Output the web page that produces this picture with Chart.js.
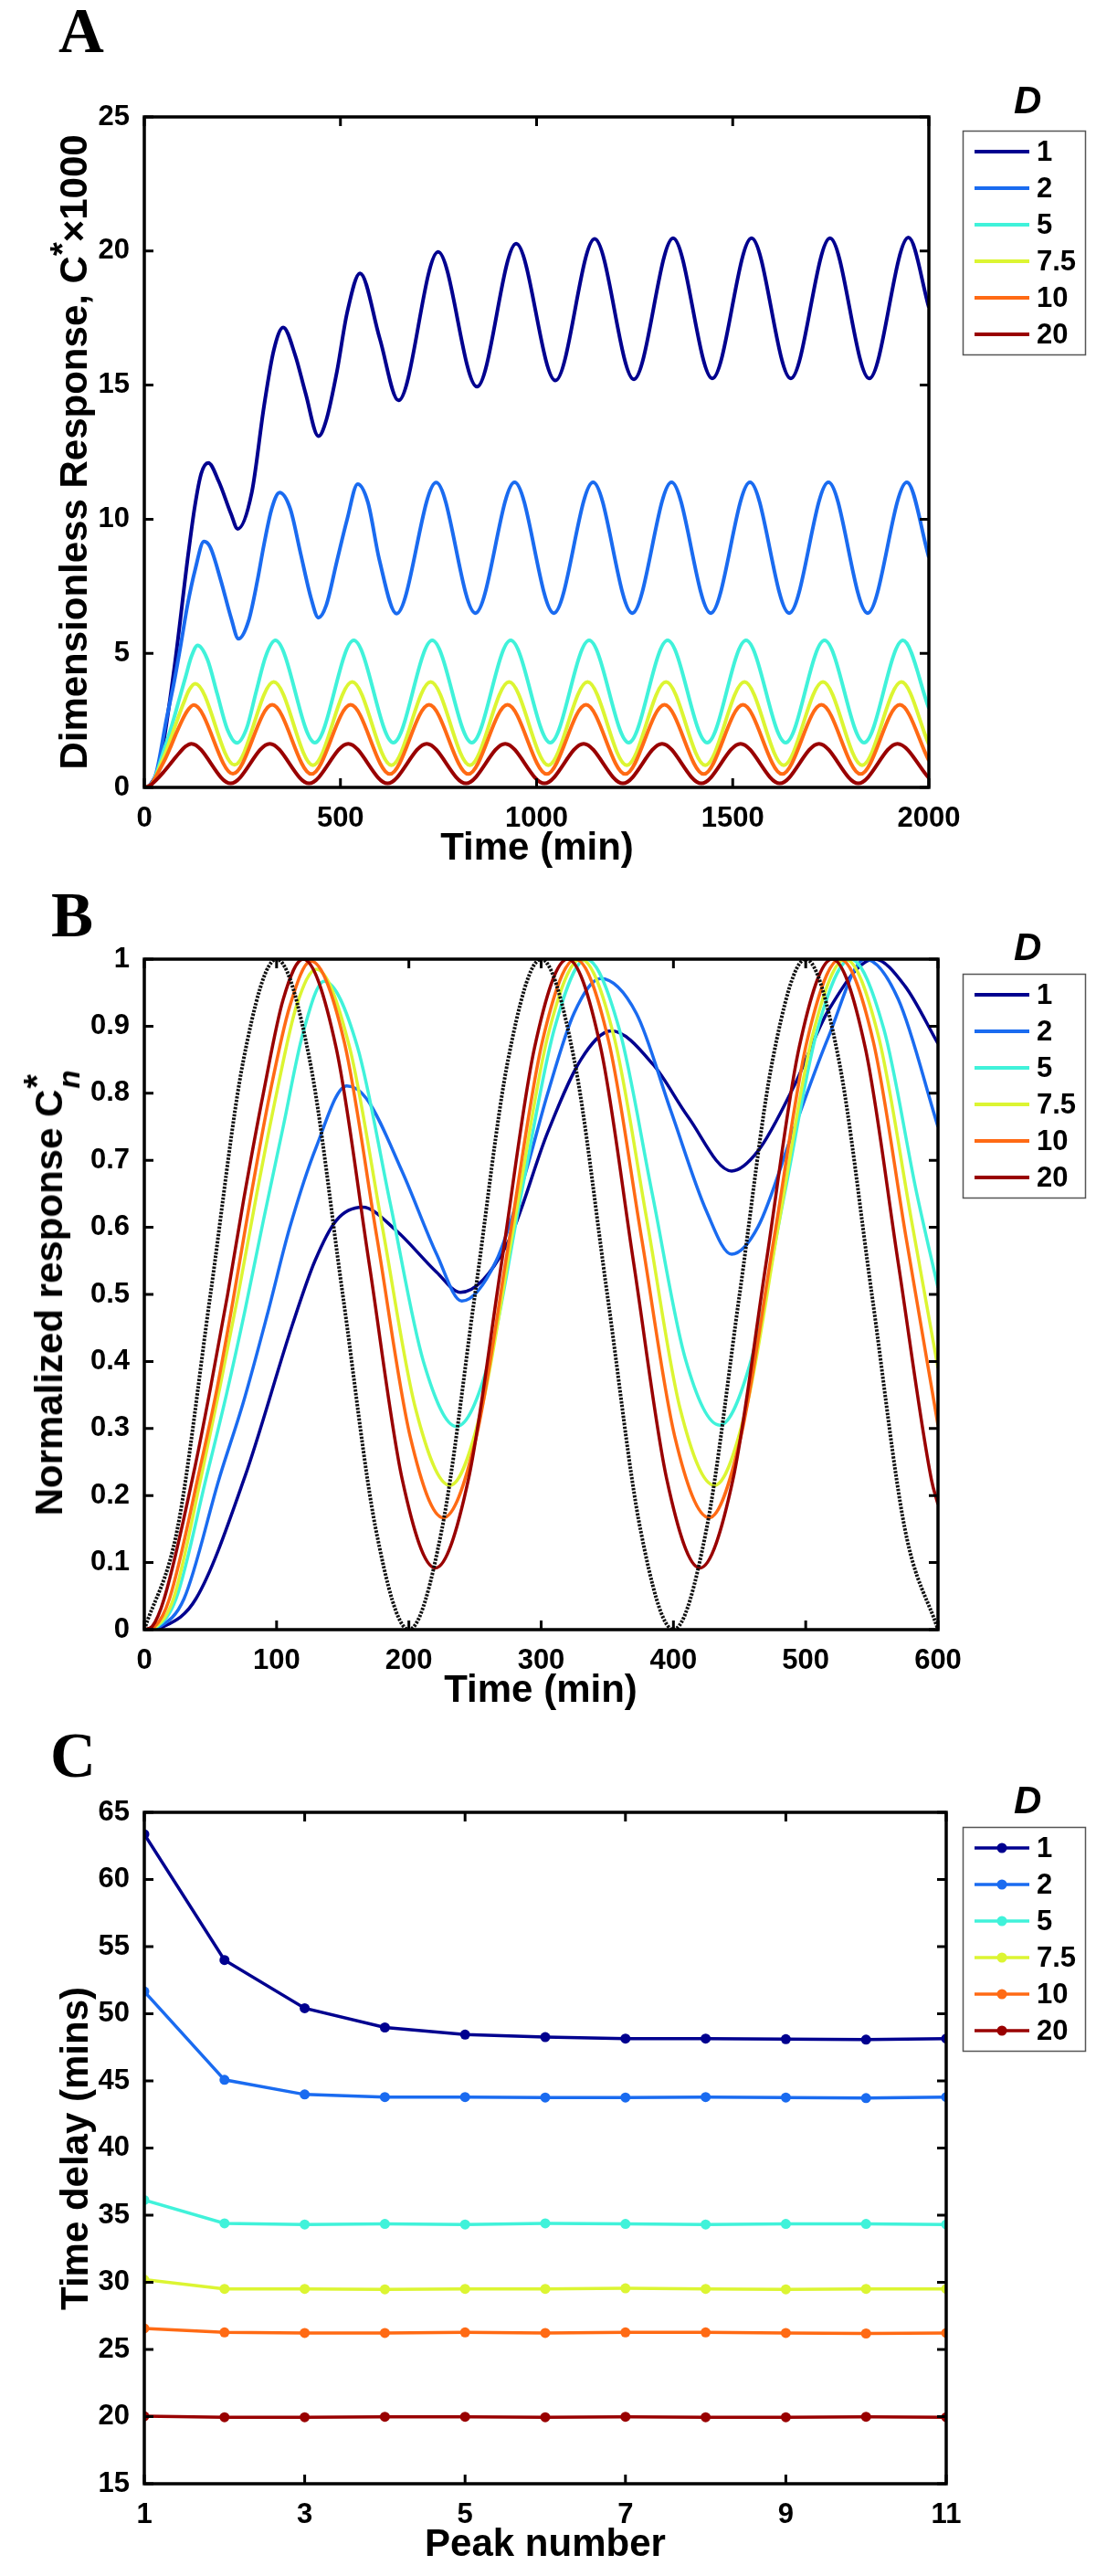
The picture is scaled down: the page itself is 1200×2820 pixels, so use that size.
<!DOCTYPE html>
<html>
<head>
<meta charset="utf-8">
<title>Response to periodic input for different D</title>
<script src="https://cdn.jsdelivr.net/npm/chart.js@4.4.1/dist/chart.umd.min.js"></script>
<style>
  html, body { margin: 0; padding: 0; background: #fff; }
  #page { position: relative; width: 1200px; height: 2820px; overflow: hidden; color: #000; }
  .panel { position: absolute; left: 0; width: 1200px; }
  .panel canvas { display: block; }
  .letter { position: absolute; font: bold 69px/1 'Liberation Serif', 'Times New Roman', serif; }
  .dhead { position: absolute; font: italic bold 42px/1 'Liberation Sans', Arial, sans-serif; }
  .ytitle, .xtitle { position: absolute; font: bold 42px/1 'Liberation Sans', Arial, sans-serif; white-space: nowrap; }
  .ytitle { transform: translate(-50%, -50%) rotate(-90deg); }
  .xtitle { transform: translate(-50%, -50%); }
  .sup { position: relative; top: -0.38em; font-size: 0.9em; }
  .supsub { position: relative; display: inline-block; width: 22px; height: 30px; }
  .supsub .st { position: absolute; left: 1px; top: -18px; font-size: 40px; line-height: 1; }
  .supsub .sb { position: absolute; left: 1px; top: 21px; font-size: 33px; line-height: 1; font-style: italic; }
</style>
</head>
<body>
<div id="page">
  <div class="panel" style="top:0; height:960px;"><canvas id="chartA" width="1200" height="960"></canvas></div>
  <div class="panel" style="top:960px; height:920px;"><canvas id="chartB" width="1200" height="920"></canvas></div>
  <div class="panel" style="top:1880px; height:940px;"><canvas id="chartC" width="1200" height="940"></canvas></div>

  <div class="letter" style="left:64px; top:0px;">A</div>
  <div class="letter" style="left:56px; top:968px;">B</div>
  <div class="letter" style="left:55px; top:1888px;">C</div>

  <div class="dhead" style="left:1110px; top:89px;">D</div>
  <div class="dhead" style="left:1110px; top:1016px;">D</div>
  <div class="dhead" style="left:1110px; top:1950px;">D</div>

  <div class="ytitle" style="left:81px; top:495px;">Dimensionless Response, C<span class="sup">*</span>×1000</div>
  <div class="ytitle" style="left:54px; top:1415px;">Normalized response C<span class="supsub"><span class="st">*</span><span class="sb">n</span></span></div>
  <div class="ytitle" style="left:82px; top:2352px;">Time delay (mins)</div>

  <div class="xtitle" style="left:588px; top:927px;">Time (min)</div>
  <div class="xtitle" style="left:592px; top:1849px;">Time (min)</div>
  <div class="xtitle" style="left:597px; top:2784px;">Peak number</div>
</div>

<script>
// ---- data ----
const dLabels = ['1', '2', '5', '7.5', '10', '20'];
const jetColors = ['#00008F', '#1A6BF0', '#40F2DA', '#DCF532', '#FF6A14', '#990000'];

// Panel A: C* x 1000 against time (min)
const aTimeTicks = [0, 500, 1000, 1500, 2000];
const aRespTicks = [0, 5, 10, 15, 20, 25];

const aT1 = [0, 15, 39, 76, 112, 129, 145, 163, 190, 221, 238, 274, 305, 330, 354, 385, 411, 444, 464, 491, 517, 550, 600, 648, 749, 848, 948, 1048, 1148, 1248, 1348, 1448, 1548, 1648, 1748, 1848, 1948, 2000];
const aC1 = [0, 0.1, 0.9, 4.4, 8.7, 10.5, 11.7, 12.1, 11.4, 10.2, 9.64, 11.0, 14.2, 16.3, 17.15, 16.1, 14.7, 13.1, 13.7, 15.5, 17.7, 19.17, 16.75, 14.43, 19.97, 14.94, 20.27, 15.17, 20.45, 15.22, 20.48, 15.25, 20.48, 15.25, 20.48, 15.25, 20.5, 17.9];

const aT2 = [0, 12, 30, 57, 75, 93, 110, 130, 152, 168, 195, 221, 240, 266, 288, 305, 325, 345, 372, 398, 425, 444, 464, 491, 517, 544, 570, 599, 643, 744, 844, 944, 1044, 1144, 1244, 1344, 1444, 1544, 1644, 1744, 1844, 1944, 2000];
const aC2 = [0, 0.05, 0.52, 2.58, 3.85, 5.32, 6.79, 8.14, 9.17, 8.96, 7.72, 6.33, 5.54, 6.22, 7.69, 9.05, 10.4, 10.99, 10.39, 8.75, 7.06, 6.33, 6.8, 8.44, 9.99, 11.31, 10.63, 8.5, 6.48, 11.37, 6.5, 11.38, 6.5, 11.38, 6.5, 11.38, 6.5, 11.38, 6.5, 11.38, 6.5, 11.38, 8.58];

const aT3 = [0, 10, 24, 47, 62, 76, 90, 105, 120, 136, 161, 186, 211, 236, 261, 285, 310, 334, 435, 534, 635, 734, 835, 934, 1035, 1134, 1235, 1334, 1435, 1534, 1635, 1734, 1835, 1934, 2000];
const aC3 = [0, 0.03, 0.25, 1.25, 1.92, 2.6, 3.34, 4.11, 4.88, 5.3, 4.77, 3.48, 2.19, 1.66, 2.21, 3.56, 4.91, 5.48, 1.67, 5.48, 1.67, 5.48, 1.67, 5.48, 1.67, 5.48, 1.67, 5.48, 1.67, 5.48, 1.67, 5.48, 1.67, 5.48, 2.95];

const aT4 = [0, 9, 22, 43, 57, 71, 85, 100, 115, 130, 230, 330, 430, 530, 630, 730, 830, 930, 1030, 1130, 1230, 1330, 1430, 1530, 1630, 1730, 1830, 1930, 2000];
const aC4 = [0, 0.02, 0.18, 0.9, 1.41, 1.97, 2.55, 3.14, 3.65, 3.87, 0.84, 3.93, 0.83, 3.93, 0.83, 3.93, 0.83, 3.93, 0.83, 3.93, 0.83, 3.93, 0.83, 3.93, 0.83, 3.93, 0.83, 3.93, 1.6];

const aT5 = [0, 8, 19, 42, 55, 67, 80, 95, 110, 126, 226, 326, 426, 526, 626, 726, 826, 926, 1026, 1126, 1226, 1326, 1426, 1526, 1626, 1726, 1826, 1926, 2000];
const aC5 = [0, 0.02, 0.14, 0.74, 1.11, 1.51, 1.97, 2.46, 2.86, 3.07, 0.51, 3.08, 0.5, 3.08, 0.5, 3.08, 0.5, 3.08, 0.5, 3.08, 0.5, 3.08, 0.5, 3.08, 0.5, 3.08, 0.5, 3.08, 1.0];

const aT6 = [0, 6, 15, 38, 50, 63, 75, 90, 105, 120, 220, 320, 420, 520, 620, 720, 820, 920, 1020, 1120, 1220, 1320, 1420, 1520, 1620, 1720, 1820, 1920, 2000];
const aC6 = [0, 0.01, 0.075, 0.39, 0.59, 0.82, 1.04, 1.3, 1.53, 1.63, 0.15, 1.63, 0.15, 1.63, 0.15, 1.63, 0.15, 1.63, 0.15, 1.63, 0.15, 1.63, 0.15, 1.63, 0.15, 1.63, 0.15, 1.63, 0.35];

// Panel B: normalized response, first 600 min, with the input (dotted)
const bTimeTicks = [0, 100, 200, 300, 400, 500, 600];
const bNormTicks = [0, 0.1, 0.2, 0.3, 0.4, 0.5, 0.6, 0.7, 0.8, 0.9, 1];

const bInputT = [0, 25, 50, 75, 100, 125, 150, 175, 200, 225, 250, 275, 300, 325, 350, 375, 400, 425, 450, 475, 500, 525, 550, 575, 600];
const bInputV = [0, 0.15, 0.5, 0.85, 1, 0.85, 0.5, 0.15, 0, 0.15, 0.5, 0.85, 1, 0.85, 0.5, 0.15, 0, 0.15, 0.5, 0.85, 1, 0.85, 0.5, 0.15, 0];

const bT1 = [0, 15, 39, 76, 112, 129, 145, 165, 190, 221, 239, 274, 305, 330, 353, 385, 411, 444, 464, 491, 517, 552, 575, 600];
const bN1 = [0, 0.005, 0.046, 0.228, 0.455, 0.55, 0.61, 0.63, 0.596, 0.533, 0.503, 0.574, 0.742, 0.85, 0.893, 0.842, 0.765, 0.684, 0.714, 0.81, 0.923, 1.0, 0.96, 0.874];

const bT2 = [0, 12, 30, 57, 75, 93, 110, 130, 153, 168, 195, 221, 240, 266, 288, 305, 325, 345, 372, 398, 425, 444, 464, 491, 517, 545, 570, 600];
const bN2 = [0, 0.005, 0.046, 0.228, 0.34, 0.47, 0.6, 0.72, 0.811, 0.792, 0.683, 0.56, 0.49, 0.55, 0.68, 0.8, 0.92, 0.971, 0.919, 0.774, 0.624, 0.56, 0.601, 0.746, 0.883, 1.0, 0.94, 0.75];

const bT3 = [0, 10, 24, 47, 62, 76, 90, 105, 120, 136, 161, 186, 211, 236, 261, 285, 310, 334, 359, 384, 409, 435, 459, 484, 509, 534, 559, 584, 600];
const bN3 = [0, 0.005, 0.046, 0.228, 0.35, 0.475, 0.61, 0.75, 0.89, 0.967, 0.87, 0.635, 0.4, 0.303, 0.404, 0.65, 0.896, 1.0, 0.896, 0.65, 0.404, 0.305, 0.404, 0.65, 0.896, 1.0, 0.896, 0.65, 0.51];

const bT4 = [0, 9, 22, 43, 57, 71, 85, 100, 115, 130, 155, 180, 205, 231, 255, 280, 305, 330, 355, 380, 405, 431, 455, 480, 505, 530, 555, 580, 600];
const bN4 = [0, 0.005, 0.046, 0.228, 0.36, 0.5, 0.65, 0.8, 0.93, 0.985, 0.87, 0.6, 0.33, 0.215, 0.33, 0.61, 0.885, 1.0, 0.885, 0.61, 0.33, 0.215, 0.33, 0.61, 0.885, 1.0, 0.885, 0.61, 0.39];

const bT5 = [0, 8, 19, 42, 55, 67, 80, 95, 110, 126, 151, 176, 201, 226, 251, 276, 301, 326, 351, 376, 401, 427, 451, 476, 501, 526, 551, 576, 600];
const bN5 = [0, 0.005, 0.046, 0.24, 0.36, 0.49, 0.64, 0.8, 0.93, 0.997, 0.878, 0.583, 0.288, 0.167, 0.288, 0.583, 0.878, 1.0, 0.878, 0.583, 0.288, 0.167, 0.288, 0.583, 0.878, 1.0, 0.878, 0.583, 0.305];

const bT6 = [0, 6, 15, 38, 50, 63, 75, 90, 105, 120, 145, 170, 195, 220, 245, 270, 295, 320, 345, 370, 395, 420, 445, 470, 495, 520, 545, 570, 595, 600];
const bN6 = [0, 0.005, 0.046, 0.24, 0.36, 0.5, 0.64, 0.8, 0.94, 1.0, 0.868, 0.546, 0.224, 0.092, 0.224, 0.546, 0.868, 1.0, 0.868, 0.546, 0.224, 0.092, 0.224, 0.546, 0.868, 1.0, 0.868, 0.546, 0.224, 0.187];

// Panel C: time delay of each response peak
const cPeakTicks = [1, 3, 5, 7, 9, 11];
const cDelayTicks = [15, 20, 25, 30, 35, 40, 45, 50, 55, 60, 65];
const cPeakNo = [1, 2, 3, 4, 5, 6, 7, 8, 9, 10, 11];
const cDelay1 = [63.37, 54.0, 50.41, 48.98, 48.45, 48.26, 48.15, 48.15, 48.11, 48.07, 48.15];
const cDelay2 = [51.66, 45.08, 43.99, 43.8, 43.8, 43.76, 43.76, 43.8, 43.76, 43.72, 43.8];
const cDelay3 = [36.13, 34.39, 34.31, 34.35, 34.31, 34.39, 34.35, 34.31, 34.35, 34.35, 34.31];
const cDelay4 = [30.2, 29.51, 29.51, 29.48, 29.51, 29.51, 29.55, 29.51, 29.48, 29.51, 29.51];
const cDelay5 = [26.57, 26.27, 26.23, 26.23, 26.27, 26.23, 26.27, 26.27, 26.23, 26.19, 26.23];
const cDelay6 = [20.03, 19.95, 19.95, 19.99, 19.99, 19.95, 19.99, 19.95, 19.95, 19.99, 19.95];

// ---- helpers ----
const FONT = "'Liberation Sans', Arial, sans-serif";

function pts(xs, ys) {
    return xs.map((x, i) => ({ x: x, y: ys[i] }));
}

// frame round the plot box, with MATLAB style inward ticks on all four sides
const boxFrame = {
    id: 'boxFrame',
    afterDatasetsDraw(chart) {
        const ctx = chart.ctx;
        const a = chart.chartArea;
        const xs = chart.scales.x;
        const ys = chart.scales.y;
        ctx.save();
        ctx.strokeStyle = '#000';
        ctx.lineWidth = 3;
        ctx.beginPath();
        xs.ticks.forEach(t => {
            const px = xs.getPixelForValue(t.value);
            ctx.moveTo(px, a.bottom); ctx.lineTo(px, a.bottom - 10);
            ctx.moveTo(px, a.top); ctx.lineTo(px, a.top + 10);
        });
        ys.ticks.forEach(t => {
            const py = ys.getPixelForValue(t.value);
            ctx.moveTo(a.left, py); ctx.lineTo(a.left + 10, py);
            ctx.moveTo(a.right, py); ctx.lineTo(a.right - 10, py);
        });
        ctx.stroke();
        ctx.lineWidth = 3.5;
        ctx.strokeRect(a.left, a.top, a.right - a.left, a.bottom - a.top);
        ctx.restore();
    }
};

// boxed legend at the right of the plot
const boxLegend = {
    id: 'boxLegend',
    afterDraw(chart, args, o) {
        if (!o || !o.top) return;
        const ctx = chart.ctx;
        ctx.save();
        ctx.lineWidth = 1.5;
        ctx.strokeStyle = '#555';
        ctx.strokeRect(1054.5, o.top + 0.5, 134, 245);
        ctx.font = 'bold 31px ' + FONT;
        ctx.textBaseline = 'middle';
        ctx.textAlign = 'left';
        dLabels.forEach((lab, i) => {
            const ds = chart.data.datasets[i];
            const yy = o.top + 23 + i * 40;
            ctx.strokeStyle = ds.borderColor;
            ctx.lineWidth = o.lineWidth;
            ctx.beginPath();
            ctx.moveTo(1067, yy);
            ctx.lineTo(1127, yy);
            ctx.stroke();
            if (o.marker) {
                ctx.fillStyle = ds.borderColor;
                ctx.beginPath();
                ctx.arc(1097, yy, o.marker, 0, Math.PI * 2);
                ctx.fill();
            }
            ctx.fillStyle = '#000';
            ctx.fillText(lab, 1135, yy + 1);
        });
        ctx.restore();
    }
};

function axis(ticks, min, max, fmt, fit) {
    return {
        type: 'linear',
        min: min,
        max: max,
        grid: { display: false },
        border: { display: false },
        afterBuildTicks: s => { s.ticks = ticks.map(v => ({ value: v })); },
        afterFit: fit,
        ticks: {
            autoSkip: false,
            maxRotation: 0,
            minRotation: 0,
            padding: 8,
            color: '#000',
            font: { family: FONT, size: 31, weight: 'bold', lineHeight: 1.2 },
            callback: fmt
        }
    };
}

function makeChart(id, datasets, xAx, yAx, pad, legendOpts) {
    return new Chart(document.getElementById(id), {
        type: 'line',
        data: { datasets: datasets },
        options: {
            responsive: false,
            animation: false,
            events: [],
            layout: { padding: pad },
            scales: { x: xAx, y: yAx },
            plugins: {
                legend: { display: false },
                tooltip: { enabled: false },
                boxLegend: legendOpts
            }
        },
        plugins: [boxFrame, boxLegend]
    });
}

const fitX = s => { s.height = 60; };
const fitY = s => { s.width = 150; };
const plain = v => String(v);

// ---- panel A ----
const aSeries = [[aT1, aC1], [aT2, aC2], [aT3, aC3], [aT4, aC4], [aT5, aC5], [aT6, aC6]];
makeChart('chartA',
    aSeries.map((s, i) => ({
        label: dLabels[i],
        data: pts(s[0], s[1]),
        borderColor: jetColors[i],
        borderWidth: 4,
        pointRadius: 0,
        fill: false,
        cubicInterpolationMode: 'monotone',
        order: 6 - i
    })),
    axis(aTimeTicks, 0, 2000, plain, fitX),
    axis(aRespTicks, 0, 25, plain, fitY),
    { left: 8, top: 128, right: 183, bottom: 38 },
    { top: 143, lineWidth: 4 }
);

// ---- panel B ----
const bSeries = [[bT1, bN1], [bT2, bN2], [bT3, bN3], [bT4, bN4], [bT5, bN5], [bT6, bN6]];
const bSets = bSeries.map((s, i) => ({
    label: dLabels[i],
    data: pts(s[0], s[1]),
    borderColor: jetColors[i],
    borderWidth: 3.5,
    pointRadius: 0,
    fill: false,
    cubicInterpolationMode: 'monotone',
    order: 7 - i
}));
bSets.push({
    label: 'input',
    data: pts(bInputT, bInputV),
    borderColor: '#111',
    borderWidth: 4,
    borderDash: [2.5, 1.5],
    pointRadius: 0,
    fill: false,
    cubicInterpolationMode: 'monotone',
    order: 0
});
makeChart('chartB', bSets,
    axis(bTimeTicks, 0, 600, plain, fitX),
    axis(bNormTicks, 0, 1, v => String(+v.toFixed(1)), fitY),
    { left: 8, top: 90, right: 173, bottom: 36 },
    { top: 106, lineWidth: 4 }
);

// ---- panel C ----
const cSeries = [cDelay1, cDelay2, cDelay3, cDelay4, cDelay5, cDelay6];
makeChart('chartC',
    cSeries.map((s, i) => ({
        label: dLabels[i],
        data: pts(cPeakNo, s),
        borderColor: jetColors[i],
        backgroundColor: jetColors[i],
        borderWidth: 3.5,
        pointRadius: 5.5,
        pointBorderWidth: 0,
        pointBackgroundColor: jetColors[i],
        fill: false,
        tension: 0,
        order: 6 - i
    })),
    axis(cPeakTicks, 1, 11, plain, fitX),
    axis(cDelayTicks, 15, 65, plain, fitY),
    { left: 8, top: 104, right: 164, bottom: 41 },
    { top: 120, lineWidth: 3.5, marker: 5.5 }
);
</script>
</body>
</html>
